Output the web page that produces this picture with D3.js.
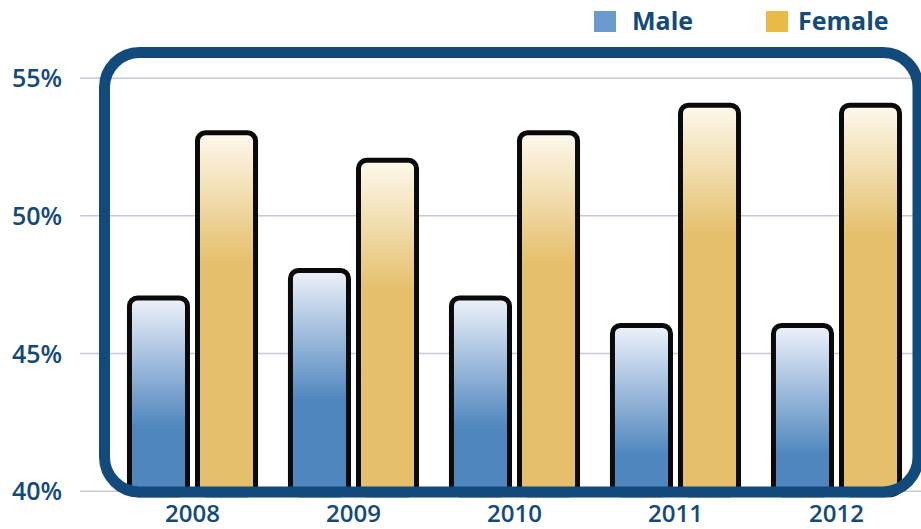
<!DOCTYPE html>
<html>
<head>
<meta charset="utf-8">
<script src="https://cdn.jsdelivr.net/npm/d3@7"></script>
<style>
  html, body { margin: 0; padding: 0; background: #fff; }
  svg { display: block; }
  svg text { font-family: 'Open Sans', sans-serif; }
</style>
</head>
<body>
<div id="chart"></div>
<script>
const years = ['2008', '2009', '2010', '2011', '2012'];
const series = ['Male', 'Female'];
const male = [47, 48, 47, 46, 46];
const female = [53, 52, 53, 54, 54];
const yTicks = [40, 45, 50, 55];

const width = 921;
const height = 529;
const navy = '#134a7c';
const colors = { Male: '#4f86be', Female: '#e5bf6b' };
const tops = { Male: '#eef2fa', Female: '#fdf9ee' };
const swatch = { Male: '#6a9bcf', Female: '#e9b94a' };

const rows = years.map((year, i) => ({ year, Male: male[i], Female: female[i] }));

const svg = d3
  .select('#chart')
  .append('svg')
  .attr('width', width)
  .attr('height', height);

const defs = svg.append('defs');

const x = d3
  .scaleBand()
  .domain(years)
  .range([112, 917])
  .paddingInner(0.217)
  .paddingOuter(0.1085);

const x1 = d3
  .scaleBand()
  .domain(series)
  .range([0, x.bandwidth()])
  .paddingInner(0.147);

const y = d3.scaleLinear().domain([40, 55]).range([490.7, 77.7]);

// gridlines + labels
const gy = svg
  .append('g')
  .attr('transform', `translate(${width}, 0)`)
  .call(
    d3
      .axisLeft(y)
      .tickValues(yTicks)
      .tickSize(width - 80)
      .tickFormat(d => d + '%')
  )
  .attr('font-family', null);

gy.select('.domain').remove();
gy.selectAll('.tick line').attr('stroke', '#c6c9d9').attr('stroke-width', 1.5);
gy.selectAll('.tick text')
  .attr('x', 12 - width)
  .attr('dy', '0.36em')
  .attr('text-anchor', 'start')
  .attr('fill', navy)
  .style('font-size', '25px')
  .style('font-weight', 600);

// bars
const groups = svg
  .append('g')
  .selectAll('g')
  .data(rows)
  .join('g')
  .attr('transform', d => `translate(${x(d.year)}, 0)`);

groups
  .selectAll('rect')
  .data(d => series.map(key => ({ key, year: d.year, value: d[key] })))
  .join('rect')
  .each(function (d) {
    const id = `grad-${d.key}-${d.year}`;
    const g = defs
      .append('linearGradient')
      .attr('id', id)
      .attr('gradientUnits', 'userSpaceOnUse')
      .attr('x1', 0)
      .attr('x2', 0)
      .attr('y1', y(d.value))
      .attr('y2', y(d.value) + 130);
    g.append('stop').attr('offset', 0).attr('stop-color', tops[d.key]);
    g.append('stop').attr('offset', 1).attr('stop-color', colors[d.key]);
    d3.select(this).attr('fill', `url(#${id})`);
  })
  .attr('x', d => x1(d.key))
  .attr('y', d => y(d.value))
  .attr('width', x1.bandwidth())
  .attr('height', d => y(40) + 4 - y(d.value))
  .attr('rx', 8)
  .attr('stroke', '#0a0a0a')
  .attr('stroke-width', 5);

// frame
svg
  .append('rect')
  .attr('x', 104.5)
  .attr('y', 52.5)
  .attr('width', 918 - 104.5)
  .attr('height', 492 - 52.5)
  .attr('rx', 35)
  .attr('fill', 'none')
  .attr('stroke', navy)
  .attr('stroke-width', 11);

// x labels
const gx = svg
  .append('g')
  .attr('transform', `translate(0, ${y(40)})`)
  .call(d3.axisBottom(x).tickSize(0))
  .attr('font-family', null);

gx.select('.domain').remove();
gx.selectAll('.tick text')
  .attr('y', 31.5)
  .attr('dy', 0)
  .attr('fill', navy)
  .style('font-size', '24px')
  .style('font-weight', 600);

// legend
const legendX = { Male: 594, Female: 766 };
const legend = svg
  .append('g')
  .selectAll('g')
  .data(series)
  .join('g')
  .attr('transform', d => `translate(${legendX[d]}, 11)`);

legend
  .append('rect')
  .attr('width', 22)
  .attr('height', 21)
  .attr('fill', d => swatch[d]);

legend
  .append('text')
  .attr('x', d => (d === 'Male' ? 38 : 32))
  .attr('y', 19)
  .attr('fill', navy)
  .style('font-size', '25px')
  .style('font-weight', 700)
  .text(d => d);
</script>
</body>
</html>
